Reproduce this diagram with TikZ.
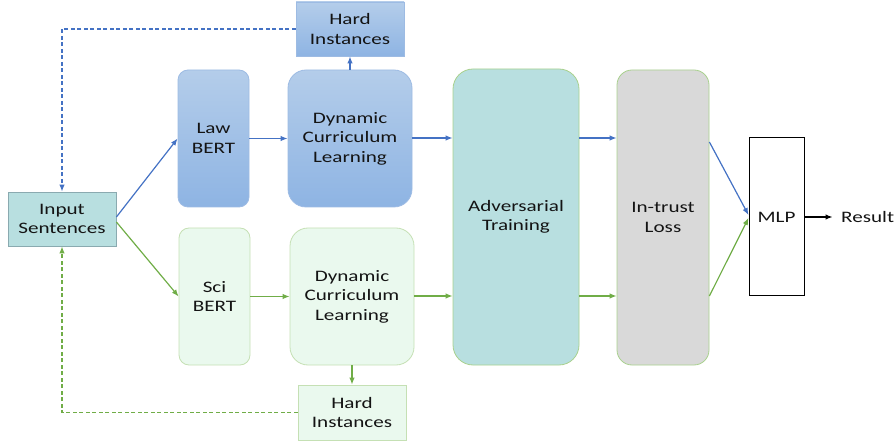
\documentclass[tikz,border=0pt]{standalone}
\usepackage{fontspec}
\setmainfont{Carlito}[FakeStretch=1.32]
\usetikzlibrary{arrows.meta,calc}
\definecolor{blueA}{HTML}{4472C4}
\definecolor{greenA}{HTML}{70AD47}
\definecolor{blueTop}{HTML}{B4CDEA}
\definecolor{blueBot}{HTML}{8EB4E3}
\definecolor{blueEdge}{HTML}{9DBBE3}
\definecolor{tealFill}{HTML}{B8DFE0}
\definecolor{tealEdge}{HTML}{8AAAB0}
\definecolor{mintFill}{HTML}{EAF9EE}
\definecolor{mintEdge}{HTML}{C5E0B4}
\definecolor{leafEdge}{HTML}{A9D18E}
\definecolor{greyFill}{HTML}{D9D9D9}
\definecolor{textInk}{HTML}{141414}
\tikzset{
  box/.style={draw, line width=0.8pt, align=center, inner sep=0pt, text=textInk,
    font=\fontsize{16pt}{19.5pt}\selectfont},
  bluebox/.style={box, draw=blueEdge, top color=blueTop, bottom color=blueBot},
  greenbox/.style={box, draw=mintEdge, fill=mintFill},
  bluearrow/.style={draw=blueA, line width=1.2pt, -{Latex[length=7pt,width=5.5pt]}},
  greenarrow/.style={draw=greenA, line width=1.2pt, -{Latex[length=7pt,width=5.5pt]}},
  bluedash/.style={bluearrow, dash pattern=on 4pt off 2.5pt},
  greendash/.style={greenarrow, dash pattern=on 4pt off 2.5pt},
}
\begin{document}
\begin{tikzpicture}[x=1pt,y=-1pt]
\useasboundingbox (0,0) rectangle (896,443);

% input block
\node[box, draw=tealEdge, fill=tealFill, minimum width=108pt, minimum height=54pt] (input) at (62,219) {Input\\Sentences};

% upper branch
\node[bluebox, rounded corners=10pt, minimum width=71pt, minimum height=137pt] (lawbert) at (213.5,138.5) {Law\\BERT};
\node[bluebox, rounded corners=18pt, minimum width=124pt, minimum height=137pt] (dclA) at (350,138.5) {Dynamic\\Curriculum\\Learning};
\node[bluebox, minimum width=108pt, minimum height=54pt] (hardA) at (350,29) {Hard\\Instances};

% lower branch
\node[greenbox, rounded corners=10pt, minimum width=71pt, minimum height=137pt] (scibert) at (214.5,296.5) {Sci\\BERT};
\node[greenbox, rounded corners=18pt, minimum width=124pt, minimum height=137pt] (dclB) at (352,296.5) {Dynamic\\Curriculum\\Learning};
\node[greenbox, minimum width=108pt, minimum height=55pt] (hardB) at (352,412.5) {Hard\\Instances};

% shared stages
\node[box, draw=leafEdge, fill=tealFill, rounded corners=20pt, minimum width=126pt, minimum height=296pt] (adv) at (516,217) {Adversarial\\Training};
\node[box, draw=leafEdge, fill=greyFill, rounded corners=15pt, minimum width=92pt, minimum height=295pt] (trust) at (663,217.5) {In-trust\\Loss};
\node[box, draw=black, line width=1pt, fill=white, minimum width=55pt, minimum height=158pt] (mlp) at (776.5,217) {MLP};
\node[text=textInk, font=\fontsize{16pt}{19.5pt}\selectfont, anchor=west, inner sep=0pt] (result) at (841,217) {Result};

% coordinates for the two lanes
\coordinate (laneA) at (0,138);
\coordinate (laneB) at (0,296);

% upper lane connectors
\draw[bluearrow] ($(input.east)+(0,-2)$) -- (lawbert.west);
\draw[bluearrow] (lawbert.east) -- (dclA.west);
\draw[bluearrow] (dclA.north) -- (hardA.south);
\draw[bluearrow] (dclA.east |- laneA) -- (adv.west |- laneA);
\draw[bluearrow] (adv.east |- laneA) -- (trust.west |- laneA);
\draw[bluearrow] ($(trust.east |- laneA)+(0,4)$) -- ($(mlp.west)+(0,-2)$);
\draw[bluedash] (hardA.west) -| (input.north);

% lower lane connectors
\draw[greenarrow] ($(input.east)+(0,3)$) -- (scibert.west);
\draw[greenarrow] (scibert.east) -- (dclB.west);
\draw[greenarrow] (dclB.south) -- (hardB.north);
\draw[greenarrow] (dclB.east |- laneB) -- (adv.west |- laneB);
\draw[greenarrow] (adv.east |- laneB) -- (trust.west |- laneB);
\draw[greenarrow] (trust.east |- laneB) -- ($(mlp.west)+(0,1)$);
\draw[greendash] (hardB.west) -| (input.south);

% output
\draw[line width=1.2pt, -{Latex[length=7pt,width=5.5pt]}] (mlp.east) -- ($(mlp.east)+(28,0)$);
\end{tikzpicture}
\end{document}
